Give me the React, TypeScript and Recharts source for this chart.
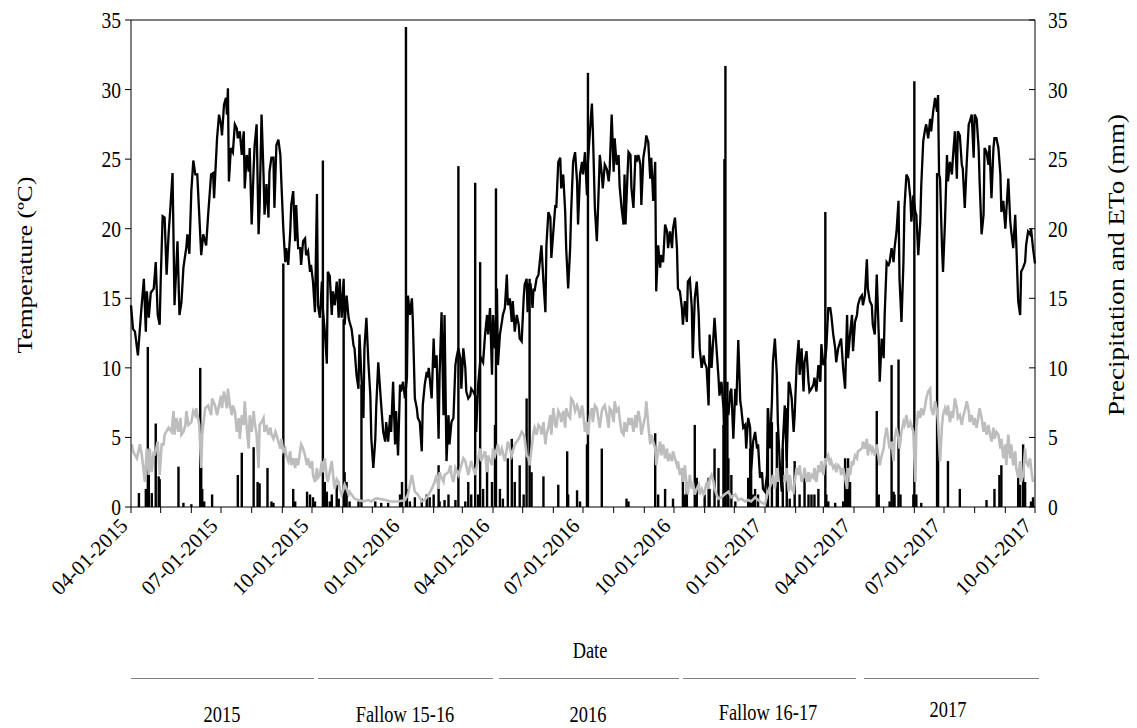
import { ComposedChart, Line, Bar, XAxis, YAxis, ReferenceLine } from "recharts";

// days counted from 04-01-2015
const monthDays = [0, 30, 61, 91, 122, 153, 183, 214, 244, 275, 306, 335, 366, 396, 427, 457, 488, 519, 549, 580, 610, 641, 672, 700, 731, 761, 792, 822, 853, 884, 914];
const quarterDays = [0, 91, 183, 275, 366, 457, 549, 641, 731, 822, 914];
const dateLabels = ["04-01-2015", "07-01-2015", "10-01-2015", "01-01-2016", "04-01-2016", "07-01-2016", "10-01-2016", "01-01-2017", "04-01-2017", "07-01-2017", "10-01-2017"];
const yTicks = [0, 5, 10, 15, 20, 25, 30, 35];

const periods = ["2015", "Fallow 15-16", "2016", "Fallow 16-17", "2017"];

// [day, mean temperature ºC]
const temperature: [number, number][] = [
  [0, 14.5], [2, 12.8], [4, 12.6], [7, 10.9], [10, 13.8], [13, 16.4], [15, 12.6], [16, 15.5], [18, 13.6], [20, 15.4],
  [23, 15.7], [25, 17.6], [27, 13.8], [29, 13.1], [30, 16.2], [32, 20.9], [34, 20.8], [36, 16.7], [38, 19.6], [40, 21.7],
  [42, 24.0], [44, 14.5], [47, 19.1], [49, 13.8], [51, 14.7], [53, 17.2], [56, 18.7], [57, 19.6], [59, 18.2], [61, 22.7],
  [63, 24.9], [65, 23.9], [67, 23.9], [69, 21.0], [71, 18.1], [73, 19.6], [76, 18.8], [78, 21.0], [81, 23.9], [83, 24.0],
  [84, 22.2], [87, 26.5], [89, 28.2], [91, 27.5], [92, 26.7], [94, 28.9], [96, 29.4], [97, 28.2], [98, 30.1], [99, 23.4],
  [101, 25.8], [103, 25.5], [105, 27.5], [107, 27.2], [108, 26.5], [110, 27.0], [112, 25.3], [114, 27.0], [115, 22.9], [117, 25.3],
  [119, 24.1], [120, 25.8], [122, 20.3], [124, 24.3], [125, 26.0], [127, 27.5], [129, 19.6], [130, 21.5], [132, 28.2], [134, 23.9],
  [135, 21.0], [137, 23.2], [139, 20.8], [140, 24.1], [142, 25.1], [144, 25.1], [145, 21.5], [147, 26.0], [149, 26.4], [151, 25.3],
  [152, 23.4], [154, 20.0], [156, 17.6], [157, 18.6], [159, 17.4], [161, 19.8], [162, 21.7], [164, 22.7], [166, 19.1], [167, 21.7],
  [169, 18.6], [171, 18.6], [172, 17.4], [174, 19.1], [176, 19.3], [177, 18.1], [179, 18.4], [181, 16.9], [182, 17.4], [184, 16.2],
  [186, 14.0], [188, 22.5], [189, 14.5], [191, 13.6], [193, 16.2], [194, 14.2], [196, 12.6], [198, 10.3], [199, 16.9], [201, 16.6],
  [203, 13.8], [204, 15.5], [206, 14.5], [208, 16.2], [210, 13.6], [211, 16.4], [213, 13.6], [215, 16.4], [216, 13.1], [218, 15.2],
  [220, 13.6], [221, 13.3], [223, 12.8], [225, 11.6], [226, 11.4], [228, 9.5], [230, 8.5], [231, 12.4], [233, 9.3], [235, 6.4],
  [236, 11.4], [238, 13.6], [240, 10.4], [242, 8.0], [243, 4.9], [245, 2.8], [247, 4.9], [248, 7.3], [250, 10.4], [252, 8.3],
  [253, 7.3], [255, 5.4], [257, 4.7], [258, 6.1], [260, 4.7], [262, 6.6], [263, 5.4], [265, 9.0], [267, 4.5], [268, 6.9],
  [270, 3.7], [272, 8.8], [273, 8.3], [275, 9.0], [277, 7.8], [279, 9.3], [280, 15.2], [282, 13.8], [284, 15.0], [285, 13.3],
  [287, 7.8], [289, 7.1], [290, 6.4], [292, 6.1], [294, 4.0], [295, 7.3], [297, 8.8], [299, 9.7], [300, 9.3], [301, 10.0],
  [302, 9.3], [304, 7.8], [306, 12.1], [307, 10.0], [309, 10.9], [311, 4.9], [312, 9.5], [314, 14.0], [316, 6.6], [317, 13.8],
  [319, 3.3], [321, 6.6], [322, 4.5], [324, 6.1], [326, 6.4], [328, 10.2], [329, 10.7], [331, 11.4], [333, 10.7], [334, 8.5],
  [336, 11.4], [338, 10.0], [339, 8.3], [341, 7.8], [343, 8.0], [344, 8.5], [346, 8.3], [348, 8.0], [349, 5.4], [351, 8.8],
  [353, 10.4], [354, 10.7], [356, 10.4], [358, 12.4], [360, 13.8], [361, 12.4], [363, 14.3], [365, 9.5], [366, 13.8], [368, 11.4],
  [370, 15.7], [371, 10.2], [373, 12.4], [375, 13.3], [376, 13.8], [378, 14.3], [380, 16.7], [381, 14.5], [383, 15.0], [385, 13.3],
  [386, 14.8], [388, 12.6], [390, 13.8], [392, 13.1], [393, 12.1], [395, 11.9], [397, 15.0], [398, 16.0], [400, 16.4], [401, 14.0],
  [402, 16.0], [404, 16.0], [406, 14.3], [407, 15.7], [408, 15.5], [410, 16.4], [412, 16.7], [414, 18.1], [415, 18.8], [417, 16.2],
  [419, 14.0], [420, 18.8], [422, 21.2], [424, 20.8], [425, 17.9], [427, 19.8], [429, 21.7], [430, 21.5], [432, 24.8], [434, 25.1],
  [435, 22.9], [437, 23.9], [439, 21.2], [440, 18.6], [442, 15.7], [444, 18.6], [445, 21.2], [447, 24.8], [449, 25.5], [451, 23.4],
  [452, 20.3], [454, 23.9], [456, 24.8], [457, 23.9], [459, 25.5], [461, 22.4], [462, 24.8], [464, 27.0], [466, 29.0], [467, 27.0],
  [469, 21.5], [471, 19.1], [472, 21.0], [474, 25.3], [476, 23.9], [477, 22.9], [479, 24.6], [481, 24.3], [483, 23.4], [484, 24.3],
  [486, 28.2], [488, 24.1], [489, 26.5], [491, 24.6], [493, 25.3], [494, 23.1], [496, 21.5], [498, 20.3], [499, 23.9], [500, 20.3],
  [502, 23.9], [503, 25.5], [505, 25.3], [506, 22.9], [508, 21.5], [510, 25.3], [511, 24.8], [513, 25.3], [515, 24.6], [516, 21.7],
  [518, 25.1], [520, 26.0], [521, 26.7], [523, 26.2], [525, 23.6], [526, 25.1], [528, 22.0], [530, 24.8], [531, 15.5], [533, 18.8],
  [535, 17.2], [536, 18.1], [538, 17.6], [540, 20.3], [542, 19.8], [543, 18.6], [545, 19.8], [547, 18.6], [548, 20.0], [550, 20.8],
  [552, 18.6], [553, 15.7], [555, 15.5], [557, 14.3], [558, 13.1], [560, 14.8], [562, 13.3], [563, 16.2], [565, 16.4], [567, 14.3],
  [568, 10.7], [570, 15.0], [572, 16.2], [574, 13.8], [575, 11.4], [577, 10.0], [579, 10.9], [580, 10.4], [582, 10.0], [584, 7.3],
  [585, 12.4], [587, 10.0], [589, 12.4], [590, 13.6], [592, 11.4], [594, 9.3], [595, 8.0], [597, 9.0], [599, 7.1], [600, 4.5],
  [602, 7.8], [604, 6.6], [606, 8.3], [607, 8.5], [609, 4.9], [611, 8.5], [612, 7.3], [614, 12.0], [616, 7.6], [617, 7.1],
  [619, 5.7], [621, 5.9], [622, 4.2], [624, 6.4], [626, 5.7], [627, 2.5], [629, 4.7], [631, 5.4], [633, 4.2], [634, 4.5],
  [636, 2.1], [638, 2.5], [639, 1.3], [641, 1.1], [643, 2.3], [644, 7.1], [646, 4.2], [648, 7.6], [649, 10.4], [651, 12.1],
  [653, 9.5], [654, 6.1], [656, 3.0], [658, 1.1], [659, 4.5], [661, 7.3], [663, 3.3], [665, 9.0], [666, 8.8], [668, 7.8],
  [670, 5.4], [671, 6.6], [673, 10.2], [675, 12.0], [676, 9.5], [678, 11.4], [680, 8.3], [681, 10.4], [683, 11.2], [685, 9.0],
  [686, 8.3], [688, 8.5], [690, 8.8], [691, 9.3], [693, 8.3], [695, 10.2], [697, 9.0], [698, 11.7], [700, 10.2], [702, 10.7],
  [703, 11.4], [705, 14.3], [707, 14.3], [708, 13.8], [710, 12.4], [712, 11.4], [713, 10.4], [715, 11.4], [717, 11.9], [718, 12.1],
  [720, 10.0], [722, 8.5], [724, 13.8], [725, 10.7], [727, 12.4], [729, 13.8], [730, 11.2], [732, 13.3], [734, 13.8], [735, 14.5],
  [737, 15.0], [739, 15.2], [740, 14.5], [742, 15.2], [744, 17.8], [745, 15.7], [747, 14.8], [749, 14.5], [750, 13.1], [752, 12.4],
  [754, 16.7], [756, 12.4], [757, 9.0], [759, 12.1], [761, 10.7], [762, 13.8], [764, 17.6], [766, 17.4], [767, 17.6], [769, 18.6],
  [771, 17.6], [772, 18.6], [774, 19.8], [776, 22.0], [777, 16.4], [779, 13.3], [781, 17.6], [782, 21.5], [784, 23.9], [786, 23.6],
  [788, 22.2], [789, 20.5], [791, 22.4], [793, 21.2], [794, 21.0], [796, 18.1], [798, 20.5], [799, 23.1], [801, 26.3], [803, 27.2],
  [804, 27.5], [806, 26.5], [808, 27.9], [809, 27.0], [811, 28.4], [813, 29.4], [815, 28.4], [816, 29.6], [817, 23.9], [818, 23.6],
  [820, 18.6], [821, 16.9], [823, 20.5], [825, 25.3], [826, 23.4], [828, 24.8], [830, 23.9], [831, 25.1], [833, 27.0], [835, 23.6],
  [836, 27.0], [838, 26.7], [840, 24.6], [841, 24.3], [843, 21.5], [845, 24.8], [847, 27.5], [848, 27.7], [850, 28.2], [852, 25.1],
  [853, 28.2], [855, 27.9], [857, 25.8], [858, 23.4], [860, 19.6], [862, 21.0], [863, 25.8], [865, 25.5], [867, 24.6], [868, 26.0],
  [870, 22.2], [872, 25.8], [873, 26.5], [875, 26.5], [877, 25.8], [879, 23.9], [880, 21.2], [882, 22.0], [884, 20.0], [885, 21.2],
  [887, 23.6], [889, 20.5], [890, 19.8], [892, 18.6], [894, 21.0], [895, 19.1], [897, 14.8], [899, 13.8], [900, 16.9], [902, 17.2],
  [904, 17.6], [905, 18.8], [907, 19.8], [909, 19.6], [910, 20.0], [912, 18.6], [914, 17.5],
];

// [day, reference evapotranspiration mm]
const eto: [number, number][] = [
  [1, 4.5], [2, 4.0], [6, 3.5], [9, 4.5], [11, 3.7], [14, 1.8], [16, 4.2], [18, 2.3], [19, 4.2], [21, 2.5],
  [23, 4.0], [24, 3.7], [27, 4.7], [29, 2.3], [31, 4.5], [33, 4.5], [34, 5.2], [38, 5.7], [41, 5.4], [43, 6.9],
  [44, 5.2], [46, 6.4], [48, 5.4], [50, 6.4], [51, 5.2], [53, 5.4], [55, 5.9], [56, 6.9], [58, 5.9], [61, 6.1],
  [63, 6.9], [65, 6.6], [66, 7.1], [69, 5.9], [71, 2.8], [72, 5.2], [75, 7.1], [78, 7.3], [81, 6.6], [82, 7.8],
  [85, 7.3], [87, 6.6], [89, 7.3], [91, 8.0], [92, 7.1], [94, 8.3], [97, 7.1], [98, 8.5], [100, 7.3], [102, 6.6],
  [103, 7.3], [105, 6.9], [107, 5.4], [109, 6.4], [110, 4.9], [112, 6.6], [114, 5.9], [115, 7.6], [117, 5.7], [119, 4.2],
  [120, 6.6], [122, 5.4], [124, 6.9], [125, 6.1], [127, 5.2], [129, 2.8], [130, 5.9], [132, 6.1], [134, 6.4], [135, 5.4],
  [137, 5.9], [139, 5.2], [141, 5.7], [142, 5.2], [144, 4.9], [146, 5.4], [147, 5.2], [149, 4.7], [151, 4.2], [152, 4.9],
  [154, 4.0], [156, 4.2], [157, 3.7], [159, 3.3], [161, 4.0], [162, 3.0], [164, 3.5], [166, 2.8], [167, 3.5], [169, 3.0],
  [171, 4.0], [172, 4.5], [174, 4.2], [176, 3.7], [178, 3.0], [179, 3.5], [181, 2.8], [183, 3.3], [184, 2.3], [186, 1.8],
  [188, 2.8], [189, 2.1], [191, 2.3], [193, 3.3], [194, 2.5], [196, 3.5], [198, 2.1], [199, 1.8], [203, 3.3], [205, 1.8],
  [206, 1.3], [208, 2.0], [210, 1.8], [211, 1.3], [213, 0.9], [215, 1.3], [216, 1.6], [218, 1.3], [220, 0.9], [221, 1.1],
  [223, 0.9], [226, 0.6], [230, 0.5], [235, 0.4], [240, 0.5], [243, 0.4], [247, 0.6], [250, 0.6], [257, 0.5], [263, 0.4],
  [270, 0.4], [277, 0.5], [280, 0.9], [284, 2.3], [285, 1.9], [287, 1.1], [290, 0.9], [294, 0.4], [297, 0.5], [301, 0.9],
  [304, 1.3], [307, 1.8], [309, 2.3], [311, 1.3], [312, 2.5], [314, 2.1], [316, 1.8], [317, 2.3], [321, 2.5], [323, 3.0],
  [324, 2.3], [326, 1.8], [328, 2.8], [331, 2.3], [334, 3.0], [336, 3.5], [338, 3.3], [339, 3.0], [341, 2.3], [344, 3.3],
  [348, 2.3], [351, 3.5], [353, 4.2], [354, 3.3], [358, 4.0], [360, 2.5], [361, 3.7], [365, 3.0], [366, 4.2], [368, 3.7],
  [371, 4.5], [373, 3.7], [375, 4.2], [378, 3.3], [380, 4.2], [381, 4.7], [385, 3.7], [388, 4.5], [392, 4.9], [395, 5.4],
  [397, 5.2], [398, 4.9], [400, 3.7], [402, 3.5], [403, 3.0], [405, 4.2], [407, 5.4], [408, 5.7], [410, 5.2], [412, 5.9],
  [414, 5.7], [415, 5.2], [417, 6.1], [419, 4.5], [420, 5.2], [422, 5.7], [424, 6.6], [425, 5.2], [427, 7.1], [429, 5.9],
  [430, 5.7], [432, 6.9], [434, 6.6], [435, 6.1], [437, 6.9], [439, 5.7], [440, 7.1], [442, 6.6], [444, 6.4], [445, 7.8],
  [447, 7.6], [449, 6.9], [451, 7.3], [452, 7.1], [454, 6.4], [456, 7.3], [457, 6.9], [459, 5.4], [461, 6.1], [462, 5.2],
  [464, 6.6], [466, 7.1], [467, 6.1], [469, 7.3], [471, 7.1], [472, 6.6], [474, 5.7], [476, 6.9], [477, 7.1], [479, 7.3],
  [481, 6.6], [483, 5.7], [484, 7.1], [486, 6.9], [488, 6.1], [489, 7.6], [491, 6.9], [493, 7.1], [494, 6.4], [496, 5.4],
  [498, 5.2], [499, 6.1], [501, 5.4], [503, 6.4], [505, 5.9], [506, 6.4], [508, 5.4], [510, 6.6], [511, 5.7], [513, 6.9],
  [515, 6.1], [516, 5.2], [518, 5.9], [520, 6.6], [521, 7.6], [523, 5.9], [525, 4.5], [526, 5.2], [528, 4.7], [530, 4.2],
  [531, 3.0], [533, 4.0], [535, 4.7], [536, 3.7], [538, 4.5], [540, 3.5], [542, 4.2], [543, 3.3], [545, 3.7], [547, 3.3],
  [548, 4.0], [550, 3.5], [552, 3.0], [553, 3.3], [555, 2.3], [557, 2.8], [558, 1.8], [560, 3.0], [562, 1.3], [563, 0.9],
  [565, 2.3], [567, 1.3], [568, 1.8], [570, 0.9], [572, 1.3], [574, 1.6], [575, 0.9], [577, 1.3], [579, 0.9], [580, 1.1],
  [582, 1.8], [584, 1.3], [585, 2.0], [587, 2.3], [589, 1.8], [590, 1.3], [592, 0.9], [594, 0.6], [597, 0.7], [600, 0.9],
  [604, 1.1], [607, 0.7], [611, 0.9], [614, 0.5], [617, 0.6], [621, 0.4], [624, 0.5], [627, 0.4], [631, 0.7], [634, 0.5],
  [638, 0.3], [641, 0.2], [644, 1.1], [648, 1.8], [649, 2.3], [651, 1.3], [653, 2.8], [654, 1.8], [656, 3.3], [658, 1.3],
  [659, 2.3], [661, 1.8], [663, 2.8], [665, 1.1], [666, 2.3], [668, 1.3], [670, 1.1], [671, 1.8], [673, 2.8], [675, 2.3],
  [676, 3.0], [678, 1.8], [680, 2.3], [681, 2.8], [683, 1.8], [685, 2.5], [686, 1.8], [688, 2.3], [690, 2.1], [691, 2.8],
  [693, 1.8], [695, 3.0], [697, 2.5], [698, 3.3], [700, 2.3], [702, 3.5], [703, 3.3], [705, 3.7], [707, 3.0], [708, 3.3],
  [710, 2.8], [712, 3.0], [713, 2.5], [715, 3.0], [717, 2.8], [718, 2.3], [720, 2.8], [722, 2.1], [724, 1.3], [725, 2.8],
  [727, 2.3], [729, 3.3], [730, 3.0], [732, 3.7], [734, 3.5], [735, 4.0], [739, 4.2], [740, 4.7], [742, 4.2], [744, 4.9],
  [745, 3.7], [747, 4.5], [749, 4.0], [750, 4.2], [752, 3.7], [754, 4.5], [756, 3.5], [757, 3.0], [759, 3.7], [761, 4.2],
  [762, 4.9], [764, 5.7], [766, 4.7], [767, 4.2], [769, 4.7], [771, 3.3], [772, 4.9], [774, 5.7], [776, 4.9], [777, 4.2],
  [779, 5.4], [781, 6.1], [782, 5.9], [784, 6.6], [786, 5.7], [788, 6.1], [789, 5.9], [791, 5.4], [793, 1.8], [794, 5.7],
  [796, 6.9], [798, 6.4], [799, 7.1], [801, 6.6], [803, 7.3], [804, 7.8], [806, 8.3], [808, 8.5], [809, 7.1], [811, 6.6],
  [813, 7.6], [815, 6.9], [816, 6.1], [818, 3.3], [820, 5.9], [821, 6.6], [823, 7.1], [825, 6.6], [826, 7.3], [828, 6.1],
  [830, 6.9], [831, 6.4], [833, 7.8], [835, 7.1], [836, 6.4], [838, 6.6], [840, 5.9], [841, 6.4], [843, 6.9], [845, 7.6],
  [847, 6.9], [848, 6.1], [850, 6.6], [852, 5.9], [853, 6.4], [855, 5.7], [857, 6.6], [858, 7.1], [860, 6.4], [862, 5.4],
  [863, 6.1], [865, 5.2], [867, 5.9], [868, 5.4], [870, 4.7], [872, 5.7], [873, 4.9], [875, 5.4], [877, 5.2], [879, 4.2],
  [880, 4.9], [882, 3.5], [884, 4.5], [885, 3.0], [887, 5.2], [889, 3.5], [890, 4.5], [892, 3.0], [894, 4.0], [895, 2.8],
  [897, 2.1], [899, 3.3], [900, 1.8], [902, 2.3], [904, 4.2], [905, 3.3], [907, 3.0], [909, 3.5], [910, 2.8], [912, 1.8],
];

// [day, precipitation mm]
const rainfall: [number, number][] = [
  [8, 1.0], [15, 1.3], [17, 11.5], [18, 3.1], [21, 1.0], [25, 6.0], [28, 2.2], [29, 2.0], [48, 2.9], [53, 0.3],
  [61, 0.2], [70, 10.0], [71, 2.9], [72, 1.3], [74, 0.4], [82, 0.9], [108, 2.3], [112, 3.9], [124, 4.3], [128, 1.8],
  [130, 1.7], [138, 2.8], [142, 0.4], [144, 0.3], [154, 17.5], [164, 1.3], [166, 0.4], [178, 1.1], [181, 0.9], [184, 0.7],
  [186, 0.4], [194, 24.9], [196, 1.8], [198, 1.1], [201, 0.4], [203, 0.9], [208, 1.6], [210, 0.6], [215, 13.5], [216, 2.5],
  [218, 1.8], [221, 0.4], [230, 0.4], [233, 8.8], [247, 0.4], [253, 0.3], [260, 0.3], [272, 0.9], [274, 1.8], [278, 34.5],
  [279, 1.3], [282, 0.4], [287, 0.7], [294, 0.6], [299, 0.9], [302, 0.7], [306, 0.9], [311, 3.0], [312, 0.4], [317, 0.5],
  [321, 0.9], [328, 0.5], [331, 24.5], [338, 0.4], [341, 1.8], [344, 0.9], [348, 23.3], [351, 0.9], [353, 17.6], [356, 1.3],
  [360, 3.5], [365, 1.8], [368, 5.9], [369, 22.9], [373, 1.3], [376, 0.6], [381, 3.5], [385, 4.9], [388, 1.8], [393, 3.0],
  [397, 0.9], [400, 7.8], [403, 16.4], [405, 2.5], [417, 2.2], [432, 1.6], [441, 4.0], [442, 0.9], [451, 1.2], [454, 0.4],
  [461, 4.5], [462, 31.2], [476, 4.2], [501, 0.6], [503, 0.4], [530, 5.3], [533, 0.9], [540, 1.3], [548, 0.6], [558, 2.8],
  [560, 0.9], [562, 1.8], [570, 5.9], [572, 2.1], [580, 0.9], [584, 2.1], [585, 1.3], [590, 4.2], [594, 2.8], [599, 5.9],
  [600, 25.0], [601, 31.7], [603, 9.0], [604, 3.5], [607, 2.3], [611, 0.4], [624, 2.1], [626, 4.2], [627, 2.5], [629, 0.9],
  [631, 1.3], [634, 0.9], [643, 0.9], [644, 7.1], [648, 6.1], [653, 5.4], [654, 2.8], [659, 4.2], [663, 7.1], [666, 0.6],
  [671, 3.3], [676, 0.9], [681, 2.1], [685, 0.9], [688, 0.9], [691, 0.9], [695, 1.3], [702, 21.2], [703, 0.9], [705, 0.4],
  [712, 0.3], [720, 0.4], [722, 3.5], [724, 1.3], [725, 3.5], [727, 1.8], [754, 6.9], [756, 0.9], [767, 0.4], [769, 10.2],
  [771, 1.1], [772, 0.9], [776, 10.6], [778, 0.9], [791, 0.9], [792, 30.6], [794, 0.9], [799, 0.3], [815, 24.0], [816, 4.5],
  [826, 3.3], [838, 1.3], [865, 0.5], [873, 1.3], [878, 2.3], [880, 3.0], [897, 2.1], [899, 1.6], [902, 4.5], [904, 1.8],
  [910, 0.4], [912, 0.7],
];

const tempData = temperature.map(([day, t]) => ({ day, t }));
const etoData = eto.map(([day, e]) => ({ day, e }));
const rainData = rainfall.map(([day, p]) => ({ day, p }));

const FONT = "'Liberation Serif', 'Times New Roman', serif";

function DateTick({ x, y, payload }: any) {
  const i = quarterDays.indexOf(payload.value);
  if (i < 0) return null;
  const ax = x - 2;
  const ay = y + 12;
  return (
    <text x={ax} y={ay} transform={`rotate(-45, ${ax}, ${ay})`} textAnchor="end" fontSize={21} fontFamily={FONT} fill="#000">
      {dateLabels[i]}
    </text>
  );
}

function LeftTick({ x, y, payload }: any) {
  return (
    <text transform={`translate(${x - 2}, ${y + 8}) scale(0.85, 1)`} textAnchor="end" fontSize={23} fontFamily={FONT} fill="#000">
      {payload.value}
    </text>
  );
}

function RightTick({ x, y, payload }: any) {
  return (
    <g>
      <line x1={x - 6} x2={x} y1={y} y2={y} stroke="#000" />
      <text transform={`translate(${x + 13}, ${y + 8}) scale(0.85, 1)`} textAnchor="start" fontSize={23} fontFamily={FONT} fill="#000">
        {payload.value}
      </text>
    </g>
  );
}

// precipitation drawn as thin spikes, centred on the bar slot the axis gives
function RainBar({ x, y, width, height }: any) {
  if (!height || height <= 0) return null;
  return <rect x={x + width / 2 - 1.2} y={y} width={2.4} height={height} fill="#000" />;
}

const segments = [
  [123, 306],
  [310, 485],
  [491, 671],
  [675, 848],
  [856, 1031],
];
const labelPos = [
  [214, 706],
  [397, 706],
  [580, 706],
  [760, 704],
  [940, 701],
];

const hText = { position: "absolute", whiteSpace: "nowrap", lineHeight: 1 } as const;

export default function App() {
  return (
    <div style={{ position: "relative", width: 1121, height: 720, fontFamily: FONT, color: "#000" }}>
      <ComposedChart width={1121} height={712} data={rainData} margin={{ top: 12, right: 0, bottom: 0, left: 0 }}>
        <XAxis
          dataKey="day"
          type="number"
          domain={[0, 914]}
          ticks={monthDays}
          interval={0}
          tick={<DateTick />}
          tickSize={6}
          height={213}
          axisLine={{ stroke: "#000" }}
          tickLine={{ stroke: "#000" }}
        />
        <YAxis
          yAxisId="t"
          domain={[0, 35]}
          ticks={yTicks}
          interval={0}
          width={123}
          tick={<LeftTick />}
          axisLine={{ stroke: "#000" }}
          tickLine={{ stroke: "#000" }}
        />
        <YAxis
          yAxisId="p"
          orientation="right"
          domain={[0, 35]}
          ticks={yTicks}
          interval={0}
          width={94}
          tickSize={0}
          tickMargin={0}
          tick={<RightTick />}
          axisLine={{ stroke: "#000" }}
          tickLine={false}
        />
        <ReferenceLine yAxisId="t" y={35} stroke="#000" />
        <Line yAxisId="p" data={etoData} dataKey="e" stroke="#bdbdbd" strokeWidth={2.6} dot={false} isAnimationActive={false} />
        <Bar yAxisId="p" dataKey="p" fill="#000" shape={<RainBar />} isAnimationActive={false} />
        <Line yAxisId="t" data={tempData} dataKey="t" stroke="#000" strokeWidth={2.3} dot={false} isAnimationActive={false} />
      </ComposedChart>

      <div style={{ ...hText, left: 17, top: 257, transform: "translate(-50%, -50%) scaleX(0.85) rotate(-90deg)", fontSize: 25.5 }}>
        Temperature (ºC)
      </div>
      <div style={{ ...hText, left: 1109, top: 257, transform: "translate(-50%, -50%) scaleX(0.85) rotate(-90deg)", fontSize: 27 }}>
        Precipitation and ETo (mm)
      </div>
      <div style={{ ...hText, left: 582, top: 642, transform: "translate(-50%, -50%) scaleX(0.8)", fontSize: 23 }}>Date</div>
      {segments.map(([a, b], i) => (
        <div key={`seg-${i}`} style={{ position: "absolute", left: a, top: 670, width: b - a, height: 1, background: "#808080" }} />
      ))}
      {periods.map((p, i) => (
        <div
          key={p}
          style={{ ...hText, left: labelPos[i][0], top: labelPos[i][1], transform: "translate(-50%, -50%) scaleX(0.8)", fontSize: 23 }}
        >
          {p}
        </div>
      ))}
    </div>
  );
}
